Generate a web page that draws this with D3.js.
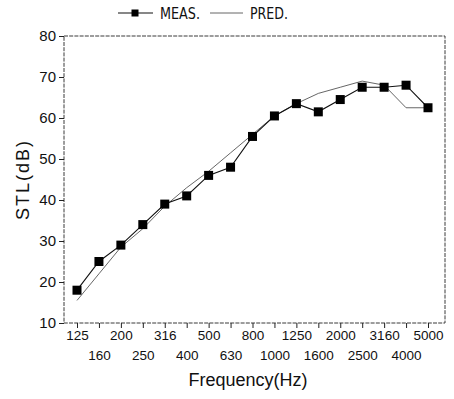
<!DOCTYPE html>
<html>
<head>
<meta charset="utf-8">
<script src="https://cdn.jsdelivr.net/npm/d3@7"></script>
<style>
  html, body { margin: 0; padding: 0; background: #fff; }
  svg { display: block; }
  text { fill: #111; }
</style>
</head>
<body>
<svg id="chart" width="454" height="399"></svg>
<script>
// ---- data ----
const frequencies = ["125","160","200","250","316","400","500","630","800","1000","1250","1600","2000","2500","3160","4000","5000"];
const measured = [18, 25, 29, 34, 39, 41, 46, 48, 55.5, 60.5, 63.5, 61.5, 64.5, 67.5, 67.5, 68, 62.5];
const predicted = [15.5, 22, 28.5, 33, 38.5, 43, 47, 51.5, 56, 60.5, 63.5, 66, 67.5, 69, 68, 62.5, 62.5];
const yTicks = [10, 20, 30, 40, 50, 60, 70, 80];
const seriesNames = ["MEAS.", "PRED."];

// ---- layout ----
const svg = d3.select("#chart");
const frame = { left: 64, right: 445, top: 36, bottom: 323 };

const x = d3.scalePoint().domain(frequencies).range([77, 428]);
const y = d3.scaleLinear().domain([10, 80]).range([frame.bottom, frame.top]);

// frame
svg.append("rect")
  .attr("x", frame.left).attr("y", frame.top)
  .attr("width", frame.right - frame.left).attr("height", frame.bottom - frame.top)
  .attr("fill", "none").attr("stroke", "#3a3a3a").attr("stroke-width", 1)
  .attr("stroke-dasharray", "4,1.2");

// x axis
const xAxis = svg.append("g")
  .attr("transform", `translate(0,${frame.bottom})`)
  .call(d3.axisBottom(x).tickSize(5).tickPadding(3));
xAxis.select(".domain").remove();
xAxis.selectAll(".tick line").attr("stroke", "#222");
xAxis.selectAll(".tick text")
  .attr("font-family", "'Liberation Sans', Arial, sans-serif")
  .attr("font-size", 13.5)
  .attr("fill", "#111")
  .attr("dy", null)
  .attr("y", (d, i) => i % 2 === 0 ? 17 : 37);

// y axis
const yAxis = svg.append("g")
  .attr("transform", `translate(${frame.left},0)`)
  .call(d3.axisLeft(y).tickValues(yTicks).tickSize(5).tickPadding(3));
yAxis.select(".domain").remove();
yAxis.selectAll(".tick line").attr("stroke", "#222");
yAxis.selectAll(".tick text")
  .attr("font-family", "'Liberation Sans', Arial, sans-serif")
  .attr("font-size", 15)
  .attr("fill", "#111");

// axis titles
svg.append("text")
  .attr("x", 248).attr("y", 386)
  .attr("text-anchor", "middle")
  .attr("font-family", "'Liberation Sans', Arial, sans-serif")
  .attr("font-size", 18)
  .text("Frequency(Hz)");

svg.append("text")
  .attr("transform", `translate(29,${(frame.top + frame.bottom) / 2}) rotate(-90)`)
  .attr("text-anchor", "middle")
  .attr("font-family", "'Liberation Sans', Arial, sans-serif")
  .attr("font-size", 18)
  .attr("letter-spacing", 2)
  .text("STL(dB)");

// lines
const line = d3.line().x((d, i) => x(frequencies[i])).y(d => y(d));

svg.append("path")
  .datum(predicted)
  .attr("d", line)
  .attr("fill", "none")
  .attr("stroke", "#555")
  .attr("stroke-width", 0.9);

svg.append("path")
  .datum(measured)
  .attr("d", line)
  .attr("fill", "none")
  .attr("stroke", "#111")
  .attr("stroke-width", 1.1);

const sq = 9;
svg.append("g").selectAll("rect")
  .data(measured)
  .join("rect")
  .attr("x", (d, i) => x(frequencies[i]) - sq / 2)
  .attr("y", d => y(d) - sq / 2)
  .attr("width", sq).attr("height", sq)
  .attr("fill", "#000");

// legend
const lg = svg.append("g");
lg.append("line").attr("x1", 118).attr("x2", 153).attr("y1", 13).attr("y2", 13)
  .attr("stroke", "#111").attr("stroke-width", 1.1);
lg.append("rect").attr("x", 135 - 3.5).attr("y", 13 - 3.5).attr("width", 7).attr("height", 7).attr("fill", "#000");
lg.append("text").attr("x", 160).attr("y", 19)
  .attr("font-family", "'Liberation Sans Narrow', 'DejaVu Sans Condensed', sans-serif")
  .attr("font-size", 16)
  .attr("textLength", 40).attr("lengthAdjust", "spacingAndGlyphs")
  .text(seriesNames[0]);
lg.append("line").attr("x1", 210).attr("x2", 243).attr("y1", 13).attr("y2", 13)
  .attr("stroke", "#555").attr("stroke-width", 0.9);
lg.append("text").attr("x", 250).attr("y", 19)
  .attr("font-family", "'Liberation Sans Narrow', 'DejaVu Sans Condensed', sans-serif")
  .attr("font-size", 16)
  .attr("textLength", 38).attr("lengthAdjust", "spacingAndGlyphs")
  .text(seriesNames[1]);
</script>
</body>
</html>
